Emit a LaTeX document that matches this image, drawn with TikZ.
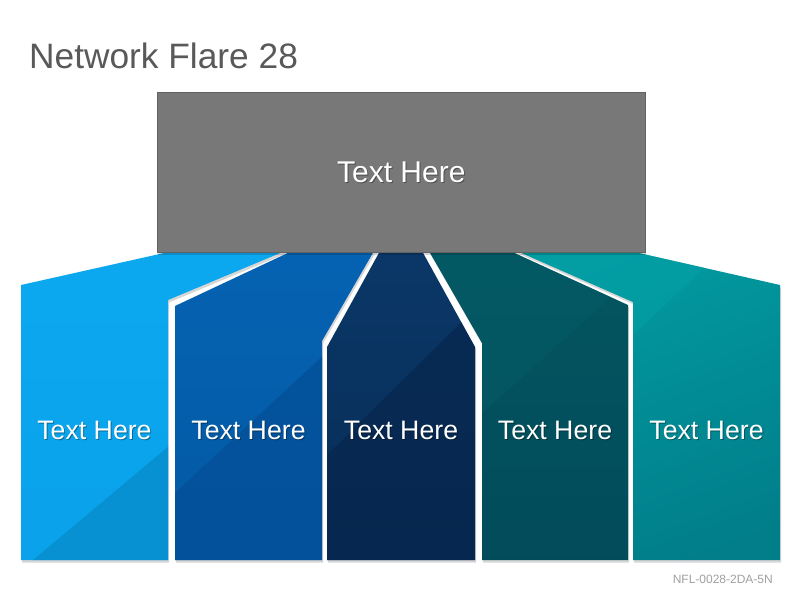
\documentclass[tikz,border=0pt]{standalone}
\usepackage{fontspec}
\setmainfont{Liberation Sans}
\definecolor{titlegray}{HTML}{595959}
\definecolor{footgray}{HTML}{A0A0A0}
\definecolor{boxgray}{HTML}{787878}
\definecolor{boxedge}{HTML}{626262}
\definecolor{cAtop}{HTML}{0BA8F0}
\definecolor{cAbot}{HTML}{0AA2EA}
\definecolor{cAfac}{HTML}{0790D0}
\definecolor{cBtop}{HTML}{0563B3}
\definecolor{cBbot}{HTML}{0459A3}
\definecolor{cBfac}{HTML}{034E96}
\definecolor{cCtop}{HTML}{0A3868}
\definecolor{cCbot}{HTML}{082C56}
\definecolor{cCfac}{HTML}{06244A}
\definecolor{cDtop}{HTML}{035660}
\definecolor{cDbot}{HTML}{024B5B}
\definecolor{cDfac}{HTML}{045E68}
\definecolor{cEtop}{HTML}{029BA1}
\definecolor{cEbot}{HTML}{017E8A}
\definecolor{cEfac}{HTML}{03A2A8}
\tikzset{
  shadowfill/.style={fill=black, fill opacity=0.16},
  coltext/.style={text=white, font=\fontsize{26.7}{30}\selectfont, inner sep=0pt},
  coltextshadow/.style={text=black, text opacity=0.35, font=\fontsize{26.7}{30}\selectfont, inner sep=0pt},
}
\begin{document}
\begin{tikzpicture}[x=1pt,y=-1pt]
\useasboundingbox (0,0) rectangle (800,600);
\fill[white] (0,0) rectangle (800,600);

% title and footer
\node[anchor=base west, inner sep=0pt, text=titlegray, font=\fontsize{35.3}{40}\selectfont] (title) at (29,68) {Network Flare 28};
\node[anchor=base east, inner sep=0pt, text=footgray, font=\fontsize{12}{14}\selectfont] (footer) at (773,583) {NFL-0028-2DA-5N};

% column outlines
\def\colA{(21,560) -- (21,285) -- (173,251) -- (285,251) -- (168,300) -- (168,560) -- cycle}
\def\colB{(175,560) -- (175,306) -- (292,251) -- (374,251) -- (322,341) -- (322,560) -- cycle}
\def\colC{(327,560) -- (327,347) -- (380,251) -- (422,251) -- (475,347) -- (475,560) -- cycle}
\def\colD{(482,560) -- (482,343) -- (429,251) -- (510,251) -- (628,305) -- (628,560) -- cycle}
\def\colE{(633,560) -- (633,302) -- (517,251) -- (630,251) -- (780,285) -- (780,560) -- cycle}

% shadows
\begin{scope}[shift={(1,2.5)}]
  \fill[shadowfill] \colA; \fill[shadowfill] \colB; \fill[shadowfill] \colC;
  \fill[shadowfill] \colD; \fill[shadowfill] \colE;
\end{scope}

% column 1
\begin{scope}
  \clip \colA;
  \shade[top color=cAtop, bottom color=cAbot] (0,240) rectangle (300,570);
  \fill[cAfac, fill opacity=0.9] (33,560) -- (200,420) -- (200,600) -- (0,600) -- cycle;
\end{scope}
% column 2
\begin{scope}
  \clip \colB;
  \shade[top color=cBtop, bottom color=cBbot] (150,240) rectangle (390,570);
  \fill[cBfac, fill opacity=0.7] (150,516) -- (340,340) -- (340,600) -- (150,600) -- cycle;
\end{scope}
% column 3
\begin{scope}
  \clip \colC;
  \shade[top color=cCtop, bottom color=cCbot] (320,240) rectangle (480,570);
  \fill[cCfac, fill opacity=0.6] (320,462) -- (500,284) -- (500,600) -- (320,600) -- cycle;
\end{scope}
% column 4
\begin{scope}
  \clip \colD;
  \shade[top color=cDtop, bottom color=cDbot] (420,240) rectangle (640,570);
  \fill[cDfac, fill opacity=0.45] (470,424) -- (640,271) -- (640,240) -- (420,240) -- (420,470) -- cycle;
\end{scope}
% column 5
\begin{scope}
  \clip \colE;
  \shade[top color=cEtop, bottom color=cEbot, shading angle=20] (500,240) rectangle (800,570);
  \fill[cEfac, fill opacity=0.5] (630,338) -- (800,177) -- (500,177) -- (500,338) -- cycle;
\end{scope}

% top box
\fill[shadowfill] (158,94.5) rectangle (646,255);
\node[draw=boxedge, line width=0.6pt, fill=boxgray, minimum width=488pt, minimum height=160pt, inner sep=0pt, anchor=north west] (hub) at (157,92) {};
\node[coltextshadow, font=\fontsize{30}{34}\selectfont] at ([shift={(1,1.5)}]hub.center) {Text Here};
\node[coltext, font=\fontsize{30}{34}\selectfont] (hubtext) at (hub.center) {Text Here};

% column texts
\foreach \n/\x in {a/94.5, b/248.5, c/401, d/555, e/706.5}{
  \node[coltextshadow] at (\x+1,431.5) {Text Here};
  \node[coltext] (t\n) at (\x,430) {Text Here};
}
\end{tikzpicture}
\end{document}
